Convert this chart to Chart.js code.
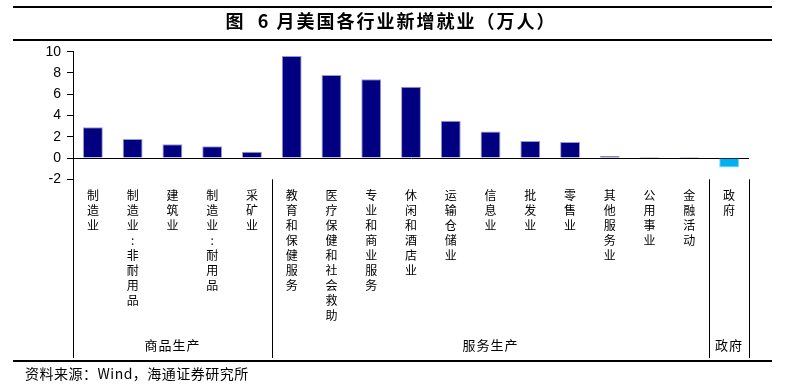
<!DOCTYPE html>
<html>
<head>
<meta charset="utf-8">
<script src="https://cdn.jsdelivr.net/npm/chart.js@4.4.1/dist/chart.umd.min.js"></script>
<style>
  body { margin: 0; background: #fff; }
  #wrap { position: relative; width: 787px; height: 390px; }
</style>
</head>
<body>
<div id="wrap"><canvas id="jobs" width="787" height="390"></canvas></div>
<script>
// 6月美国各行业新增就业（万人）
const industries = ['制造业', '制造业:非耐用品', '建筑业', '制造业:耐用品', '采矿业',
  '教育和保健服务', '医疗保健和社会救助', '专业和商业服务', '休闲和酒店业', '运输仓储业',
  '信息业', '批发业', '零售业', '其他服务业', '公用事业', '金融活动', '政府'];
const newJobs = [2.9, 1.8, 1.3, 1.1, 0.6, 9.6, 7.8, 7.4, 6.7, 3.5, 2.5, 1.6, 1.5, 0.2, 0.1, 0.1, -0.9];
const groupNames = ['商品生产', '服务生产', '政府'];
const groupStart = [0, 5, 16]; // first category index of each group
const yTicks = [-2, 0, 2, 4, 6, 8, 10];

const cjk = '"Noto Sans CJK SC", "Liberation Sans", sans-serif';
Chart.defaults.font.family = cjk;
Chart.defaults.color = '#000';

const barColors = newJobs.map((v, i) => industries[i] === '政府' ? '#00b0f0' : '#000080');
const barEdges = newJobs.map((v, i) => industries[i] === '政府' ? '#7fd8f8' : '#9a9ad0');

const decor = {
  id: 'decor',
  afterDraw(chart) {
    const ctx = chart.ctx;
    const area = chart.chartArea;
    const xs = chart.scales.x;
    const lineEnd = 358;
    ctx.save();
    ctx.strokeStyle = '#000';

    // top rules and title
    ctx.lineWidth = 2;
    ctx.beginPath();
    ctx.moveTo(13, 7); ctx.lineTo(772, 7);
    ctx.moveTo(13, 40); ctx.lineTo(772, 40);
    ctx.stroke();
    ctx.fillStyle = '#000';
    ctx.font = 'bold 18px ' + cjk;
    ctx.textAlign = 'center';
    ctx.textBaseline = 'middle';
    ctx.letterSpacing = '2px';
    ctx.fillText('图  6 月美国各行业新增就业（万人）', 391, 21);

    // axis extension and group separators
    ctx.lineWidth = 1;
    ctx.beginPath();
    ctx.moveTo(Math.round(area.left) + 0.5, area.bottom);
    ctx.lineTo(Math.round(area.left) + 0.5, lineEnd);
    const step = xs.getPixelForValue(1) - xs.getPixelForValue(0);
    const bounds = groupStart.slice(1).map(i => xs.getPixelForValue(i) - step / 2);
    bounds.push(xs.getPixelForValue(industries.length - 1) + step / 2);
    bounds.forEach(b => {
      ctx.moveTo(Math.round(b) + 0.5, area.bottom);
      ctx.lineTo(Math.round(b) + 0.5, lineEnd);
    });
    ctx.stroke();

    // group labels
    ctx.font = '13px ' + cjk;
    ctx.letterSpacing = '1px';
    groupNames.forEach((g, k) => {
      const a = groupStart[k];
      const b = k + 1 < groupStart.length ? groupStart[k + 1] - 1 : industries.length - 1;
      const cx = (xs.getPixelForValue(a) + xs.getPixelForValue(b)) / 2;
      ctx.fillText(g, cx, 345);
    });

    // bottom rule and source
    ctx.lineWidth = 2;
    ctx.beginPath();
    ctx.moveTo(13, 361); ctx.lineTo(772, 361);
    ctx.stroke();
    ctx.textAlign = 'left';
    ctx.font = '14px ' + cjk;
    ctx.letterSpacing = '0.5px';
    ctx.fillText('资料来源：Wind，海通证券研究所', 25, 374);
    ctx.restore();
  }
};

new Chart(document.getElementById('jobs'), {
  type: 'bar',
  data: {
    labels: industries.map(s => s.split('')),
    datasets: [{
      data: newJobs,
      backgroundColor: barColors,
      borderColor: barEdges,
      borderWidth: 1,
      barPercentage: 0.5,
      categoryPercentage: 1
    }]
  },
  options: {
    responsive: false,
    animation: false,
    layout: { padding: { top: 51.7, right: 38, bottom: 0, left: 0 } },
    plugins: { legend: { display: false }, tooltip: { enabled: false } },
    scales: {
      x: {
        grid: { display: false, drawTicks: false },
        border: { display: false },
        ticks: {
          autoSkip: false, maxRotation: 0, minRotation: 0, padding: 9,
          font: { size: 12, lineHeight: 1.25 }
        },
        afterFit(scale) { scale.height = 390 - 179.3; }
      },
      y: {
        min: -2, max: 10,
        afterBuildTicks(scale) { scale.ticks = yTicks.map(v => ({ value: v })); },
        grid: {
          color: c => c.tick && c.tick.value === 0 ? '#000' : 'rgba(0,0,0,0)',
          tickColor: '#000', tickLength: 6, drawTicks: true
        },
        border: { display: true, color: '#000', width: 1 },
        ticks: { padding: 6, font: { family: '"Liberation Sans", Arial, sans-serif', size: 14 } },
        afterFit(scale) { scale.width = 73; }
      }
    }
  },
  plugins: [decor]
});
</script>
</body>
</html>
